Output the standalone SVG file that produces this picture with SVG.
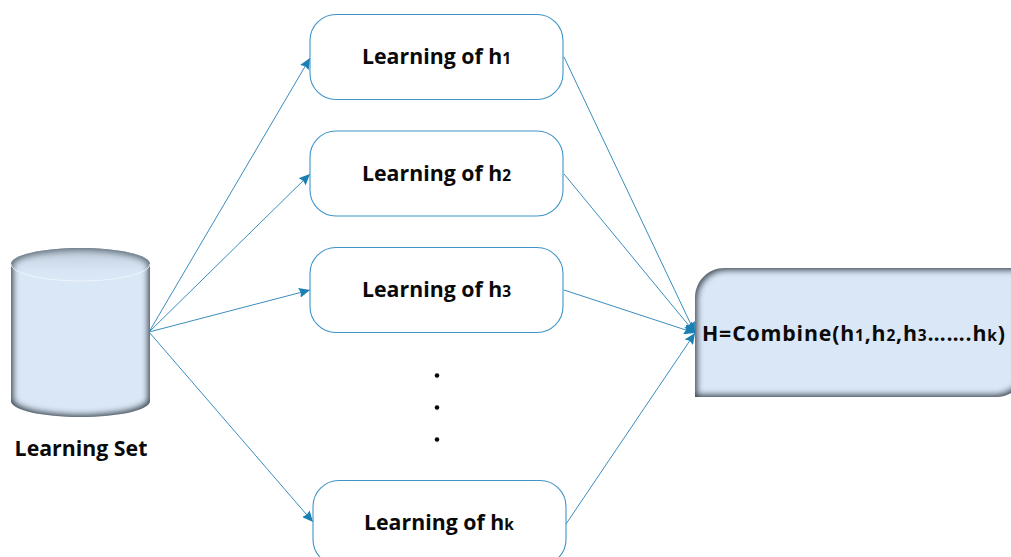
<svg xmlns="http://www.w3.org/2000/svg" width="1011" height="557" viewBox="0 0 1011 557">
<style>
.box{fill:#fff;stroke:#3f94c8;stroke-width:1.1}
.t{font-family:"Open Sans","Noto Sans","Liberation Sans",sans-serif;font-weight:700;font-size:21.3px;fill:#0a0a0a}
.s{font-size:15.5px}
.c{fill:none;stroke:#3a8dbd;stroke-width:1;marker-end:url(#a)}
.soft{fill:#dae7f6;filter:url(#inner)}
</style>
<defs>
<marker id="a" markerUnits="userSpaceOnUse" markerWidth="12" markerHeight="10" refX="11" refY="5" orient="auto"><path d="M0 0L11 5L0 10L1.500 5Z" fill="#1a7fb3"/></marker>
<linearGradient id="top" x1="0" y1="0" x2="0" y2="1"><stop offset="0" stop-color="#8a98a6" stop-opacity=".5"/><stop offset=".6" stop-color="#c4d2e0" stop-opacity=".2"/><stop offset="1" stop-color="#dae7f6" stop-opacity="0"/></linearGradient>
<filter id="inner" x="-5%" y="-5%" width="110%" height="110%" color-interpolation-filters="sRGB">
<feMorphology in="SourceAlpha" operator="erode" radius="1.500" result="e"/>
<feGaussianBlur in="e" stdDeviation="3" result="b"/>
<feComposite in="SourceAlpha" in2="b" operator="out" result="edge"/>
<feFlood flood-color="#3a444e"/>
<feComposite in2="edge" operator="in" result="shade"/>
<feMerge><feMergeNode in="SourceGraphic"/><feMergeNode in="shade"/></feMerge>
</filter>
</defs>
<g id="connectors">
<path class="c" d="M149 332L310 58"/>
<path class="c" d="M149 332L310 174"/>
<path class="c" d="M149 332L310 290"/>
<path class="c" d="M149 332L313 522"/>
<path class="c" d="M564 57L695 333"/>
<path class="c" d="M564 174L695 333"/>
<path class="c" d="M564 290L695 333"/>
<path class="c" d="M566 524L695 333"/>
</g>
<g id="learning-set">
<path class="soft" d="M11 264C11 255 42 248 80.500 248S150 255 150 264V401C150 410 119 417 80.500 417S11 410 11 401Z"/>
<path d="M11 264C11 255 42 248 80.500 248S150 255 150 264C150 273 119 281 80.500 281S11 273 11 264Z" fill="url(#top)"/>
<path d="M11 264C11 273 42 281 80.500 281S150 273 150 264" fill="none" stroke="#eef4fb" stroke-width="1"/>
<text class="t" x="81" y="456" text-anchor="middle">Learning Set</text>
</g>
<g id="h1">
<rect class="box" x="310" y="14.500" width="253" height="85" rx="26"/>
<text class="t" x="362" y="64">Learning of h<tspan class="s">1</tspan></text>
</g>
<g id="h2">
<rect class="box" x="310" y="131" width="253" height="85" rx="26"/>
<text class="t" x="362" y="181">Learning of h<tspan class="s">2</tspan></text>
</g>
<g id="h3">
<rect class="box" x="310" y="247.500" width="253" height="85" rx="26"/>
<text class="t" x="362" y="297">Learning of h<tspan class="s">3</tspan></text>
</g>
<g id="dots">
<circle cx="437" cy="375.500" r="2.300" fill="#0a0a0a"/>
<circle cx="437" cy="407.500" r="2.300" fill="#0a0a0a"/>
<circle cx="437" cy="439.500" r="2.300" fill="#0a0a0a"/>
</g>
<g id="hk">
<rect class="box" x="313" y="480.500" width="253" height="85" rx="26"/>
<text class="t" x="364" y="530">Learning of h<tspan class="s">k</tspan></text>
</g>
<g id="combine">
<path class="soft" d="M695 397V298C695 281 708 268 725 268H1026V367C1026 384 1013 397 996 397Z"/>
<text class="t" x="702" y="341" textLength="303" lengthAdjust="spacing">H=Combine(h<tspan class="s">1</tspan>,h<tspan class="s">2</tspan>,h<tspan class="s">3</tspan>…….h<tspan class="s">k</tspan>)</text>
</g>
</svg>
